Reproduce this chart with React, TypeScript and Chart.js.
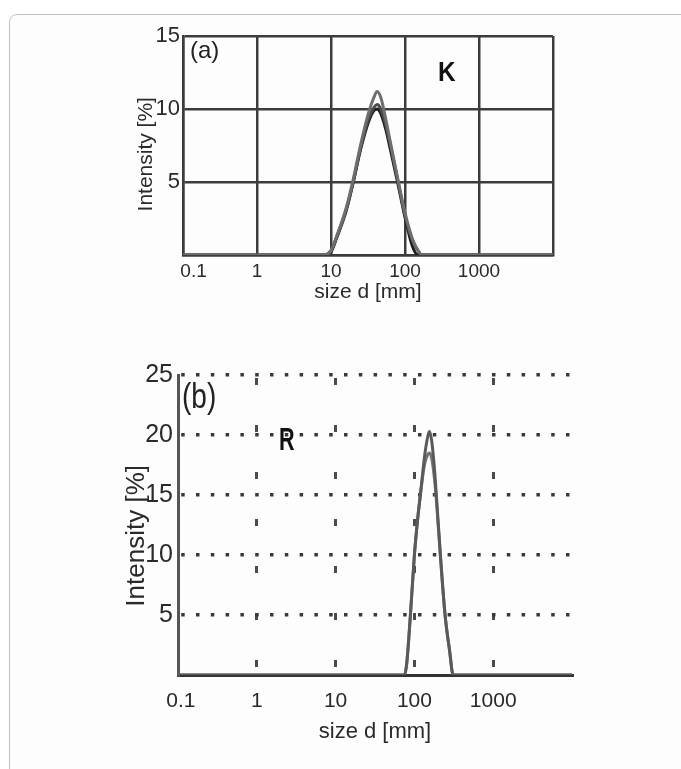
import React, { useEffect, useRef } from "react";
import { Chart, registerables } from "chart.js";

Chart.register(...registerables);

const FONT = "'Liberation Sans', Arial, Helvetica, sans-serif";

// ---- shared axis ticks ----
const xTickValues = [0.1, 1, 10, 100, 1000, 10000];
const xTickLabels = ["0.1", "1", "10", "100", "1000", ""];

// ---- panel (a) ----
const aYTicks = [0, 5, 10, 15];
const aYLabels = ["", "5", "10", "15"];
const aSizes = [0.1, 8, 10, 12, 16, 20, 25, 32, 38, 42, 47, 55, 63, 80, 100, 126, 150, 170, 10000];
const aRun1 = [0, 0, 0.3, 1.3, 3.2, 5.2, 7.5, 9.7, 10.8, 11.2, 10.8, 9.3, 7.8, 5.2, 2.9, 1.1, 0.3, 0, 0];
const aRun2 = [0, 0, 0.3, 1.3, 3.1, 5.0, 7.3, 9.3, 10.1, 10.3, 10.0, 8.9, 7.6, 5.1, 2.7, 1.0, 0.3, 0, 0];
const aRun3 = [0, 0, 0.2, 1.2, 3.0, 5.0, 7.2, 9.1, 9.9, 10.0, 9.7, 8.6, 7.3, 4.9, 2.6, 0.6, 0, 0, 0];

// ---- panel (b) ----
const bYTicks = [0, 5, 10, 15, 20, 25];
const bYLabels = ["", "5", "10", "15", "20", "25"];
const bSizes = [0.1, 75, 80, 89, 100, 110, 119, 135, 148, 155, 165, 178, 190, 214, 245, 280, 310, 10000];
const bRun1 = [0, 0, 1, 5, 10, 13, 15, 18.3, 19.9, 20.3, 19.6, 17.5, 15, 10, 5, 2, 0, 0];
const bRun2 = [0, 0, 1, 5, 10, 13, 15, 17.6, 18.4, 18.5, 18.1, 16.6, 14.6, 9.8, 5, 2, 0, 0];

const pts = (xs: number[], ys: number[]) => xs.map((x, i) => ({ x, y: ys[i] }));

function lineDs(xs: number[], ys: number[], color: string, width: number) {
  return {
    data: pts(xs, ys),
    borderColor: color,
    borderWidth: width,
    pointRadius: 0,
    cubicInterpolationMode: "monotone" as const,
    fill: false,
  };
}

// first label sits a little right of its grid line in the original figure
const xLabel = (lead: string) => (v: any) => {
  const i = xTickValues.indexOf(Number(v));
  if (i < 0) return "";
  return i === 0 ? lead + xTickLabels[i] : xTickLabels[i];
};

function PanelA() {
  const ref = useRef<HTMLCanvasElement>(null);
  useEffect(() => {
    const chart = new Chart(ref.current!, {
      type: "line",
      data: {
        datasets: [
          lineDs(aSizes, aRun1, "#6e6e6e", 3),
          lineDs(aSizes, aRun2, "#4a4a4a", 3),
          lineDs(aSizes, aRun3, "#1e1e1e", 3),
        ],
      },
      options: {
        responsive: false,
        animation: false,
        layout: { padding: { left: 130, top: 36, right: 128, bottom: 0 } },
        plugins: { legend: { display: false }, tooltip: { enabled: false } },
        scales: {
          x: {
            type: "logarithmic",
            min: 0.1,
            max: 10000,
            afterBuildTicks: (s: any) => {
              s.ticks = xTickValues.map((v) => ({ value: v }));
            },
            afterFit: (s: any) => {
              s.height = 65;
            },
            ticks: {
              autoSkip: false,
              maxRotation: 0,
              padding: 5,
              color: "#2a2a2a",
              font: { family: FONT, size: 19 },
              callback: xLabel("    "),
            },
            grid: { color: "#3c3c3c", lineWidth: 2.5, drawTicks: false },
            border: { display: true, color: "#3c3c3c", width: 2.5 },
            title: {
              display: true,
              text: "size d [mm]",
              color: "#2a2a2a",
              font: { family: FONT, size: 21 },
              padding: { top: 0, bottom: 15 },
            },
          },
          y: {
            type: "linear",
            min: 0,
            max: 15,
            afterBuildTicks: (s: any) => {
              s.ticks = aYTicks.map((v) => ({ value: v }));
            },
            afterFit: (s: any) => {
              s.width = 53;
            },
            ticks: {
              padding: 3,
              color: "#2a2a2a",
              font: { family: FONT, size: 22 },
              callback: (v: any) => {
                const i = aYTicks.indexOf(Number(v));
                return i >= 0 ? aYLabels[i] : "";
              },
            },
            grid: { color: "#3c3c3c", lineWidth: 2.5, drawTicks: false },
            border: { display: true, color: "#3c3c3c", width: 2.5 },
            title: {
              display: true,
              text: "Intensity [%]   ",
              color: "#2a2a2a",
              font: { family: FONT, size: 21 },
              padding: { top: 4, bottom: 0 },
            },
          },
        },
      },
    });
    return () => chart.destroy();
  }, []);
  return (
    <canvas
      ref={ref}
      width={681}
      height={320}
      style={{ position: "absolute", left: 0, top: 0, width: 681, height: 320 }}
    />
  );
}

function PanelB() {
  const ref = useRef<HTMLCanvasElement>(null);
  useEffect(() => {
    const chart = new Chart(ref.current!, {
      type: "line",
      data: {
        datasets: [lineDs(bSizes, bRun1, "#5a5a5a", 3), lineDs(bSizes, bRun2, "#747474", 3)],
      },
      options: {
        responsive: false,
        animation: false,
        layout: { padding: { left: 121, top: 45, right: 109, bottom: 0 } },
        plugins: { legend: { display: false }, tooltip: { enabled: false } },
        scales: {
          x: {
            type: "logarithmic",
            min: 0.1,
            max: 10000,
            afterBuildTicks: (s: any) => {
              s.ticks = xTickValues.map((v) => ({ value: v }));
            },
            afterFit: (s: any) => {
              s.height = 94;
            },
            ticks: {
              autoSkip: false,
              maxRotation: 0,
              padding: 14,
              color: "#2a2a2a",
              font: { family: FONT, size: 21 },
              callback: xLabel(" "),
            },
            grid: {
              color: (c: any) =>
                c.tick && (c.tick.value === 0.1 || c.tick.value === 10000) ? "rgba(0,0,0,0)" : "#4a4a4a",
              lineWidth: 3,
              drawTicks: false,
            },
            border: { display: true, color: "#333333", width: 3, dash: [7, 40], dashOffset: -3 },
            title: {
              display: true,
              text: "size d [mm]",
              color: "#2a2a2a",
              font: { family: FONT, size: 22 },
              padding: { top: 0, bottom: 24 },
            },
          },
          y: {
            type: "linear",
            min: 0,
            max: 25,
            afterBuildTicks: (s: any) => {
              s.ticks = bYTicks.map((v) => ({ value: v }));
            },
            afterFit: (s: any) => {
              s.width = 57;
            },
            ticks: {
              padding: 5,
              color: "#2a2a2a",
              font: { family: FONT, size: 25 },
              callback: (v: any) => {
                const i = bYTicks.indexOf(Number(v));
                return i >= 0 ? bYLabels[i] : "";
              },
            },
            grid: {
              color: (c: any) => (c.tick && c.tick.value === 0 ? "rgba(0,0,0,0)" : "#3a3a3a"),
              lineWidth: 3.5,
              drawTicks: false,
            },
            border: { display: true, color: "#555555", width: 3, dash: [3.5, 11.3], dashOffset: -1.2 },
            title: {
              display: true,
              text: "Intensity [%]   ",
              color: "#2a2a2a",
              font: { family: FONT, size: 26 },
              padding: { top: 0, bottom: 0 },
            },
          },
        },
      },
    });
    return () => chart.destroy();
  }, []);
  return (
    <canvas
      ref={ref}
      width={681}
      height={439}
      style={{ position: "absolute", left: 0, top: 330, width: 681, height: 439 }}
    />
  );
}

const txt = (extra: React.CSSProperties): React.CSSProperties => ({
  position: "absolute",
  fontFamily: FONT,
  lineHeight: 1,
  color: "#222",
  whiteSpace: "nowrap",
  transformOrigin: "0 0",
  ...extra,
});

export default function App() {
  return (
    <div
      style={{
        position: "fixed",
        left: 0,
        top: 0,
        width: 681,
        height: 769,
        overflow: "hidden",
        background: "#fff",
      }}
    >
      <div
        style={{
          position: "absolute",
          left: 9,
          top: 14,
          width: 720,
          height: 800,
          border: "1px solid #c2c2c2",
          borderTopLeftRadius: 8,
          background: "#fdfdfd",
        }}
      />
      <PanelA />
      <PanelB />
      <div style={txt({ left: 190, top: 38, fontSize: 24 })}>(a)</div>
      <div style={txt({ left: 438, top: 59, fontSize: 27, fontWeight: "bold", color: "#111", transform: "scaleX(0.9)" })}>K</div>
      <div style={txt({ left: 182, top: 379, fontSize: 28, transform: "scaleY(1.25)" })}>(b)</div>
      <div style={txt({ left: 279, top: 425, fontSize: 27, fontWeight: "bold", color: "#111", transform: "scaleX(0.8) scaleY(1.15)" })}>R</div>
    </div>
  );
}
